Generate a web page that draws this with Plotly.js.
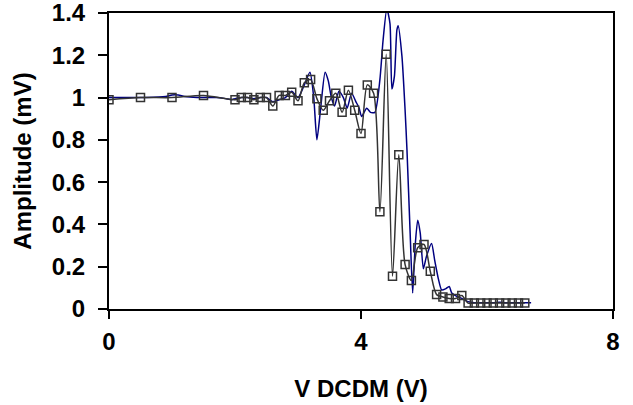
<!DOCTYPE html>
<html>
<head>
<meta charset="utf-8">
<script src="https://cdn.plot.ly/plotly-3.0.1.min.js"></script>
<style>
html,body{margin:0;padding:0;background:#fff;}
#chart{width:633px;height:405px;}
</style>
</head>
<body>
<div id="chart"></div>
<script>
// Series 1: dense navy trace (no markers)
const blueX = [0.0, 0.3, 0.6, 0.9, 1.0, 1.1, 1.2, 1.4, 1.7, 1.85, 1.95, 2.0, 2.1, 2.2, 2.3, 2.4, 2.5, 2.6, 2.7, 2.8, 2.9, 3.0, 3.1, 3.19, 3.25, 3.30, 3.36, 3.43, 3.48, 3.53, 3.58, 3.65, 3.72, 3.78, 3.85, 3.92, 3.97, 4.01, 4.09, 4.15, 4.22, 4.30, 4.35, 4.41, 4.46, 4.49, 4.53, 4.57, 4.59, 4.65, 4.70, 4.73, 4.78, 4.82, 4.86, 4.90, 4.94, 4.99, 5.04, 5.12, 5.17, 5.23, 5.28, 5.34, 5.40, 5.44, 5.52, 5.6, 5.7, 5.8, 5.9, 6.0, 6.1, 6.2, 6.3, 6.4, 6.5, 6.6, 6.7];
const blueY = [1.0, 1.0, 1.0, 1.005, 1.012, 1.012, 1.005, 1.0, 1.0, 0.995, 0.99, 0.995, 1.0, 1.0, 0.995, 1.0, 1.0, 0.98, 0.99, 1.0, 1.03, 1.0, 1.06, 1.12, 1.0, 0.80, 0.95, 1.12, 1.08, 1.0, 0.96, 1.03, 1.0, 0.95, 1.02, 0.98, 0.95, 0.91, 0.95, 0.93, 0.93, 1.085, 1.27, 1.42, 1.35, 1.04, 1.1, 1.32, 1.34, 1.195, 0.94, 0.75, 0.36, 0.076, 0.30, 0.42, 0.36, 0.19, 0.25, 0.31, 0.23, 0.14, 0.09, 0.095, 0.107, 0.076, 0.06, 0.05, 0.035, 0.03, 0.03, 0.03, 0.03, 0.032, 0.03, 0.03, 0.03, 0.03, 0.03];

// Series 2: dark grey trace with open square markers
const greyX = [0, 0.5, 1, 1.5, 2.0, 2.1, 2.2, 2.3, 2.4, 2.5, 2.6, 2.7, 2.8, 2.9, 3.0, 3.1, 3.2, 3.3, 3.4, 3.5, 3.6, 3.7, 3.8, 3.9, 4.0, 4.1, 4.2, 4.3, 4.4, 4.5, 4.6, 4.7, 4.8, 4.9, 5.0, 5.1, 5.2, 5.3, 5.4, 5.5, 5.6, 5.7, 5.8, 5.9, 6.0, 6.1, 6.2, 6.3, 6.4, 6.5, 6.6];
const greyY = [0.99, 1.0, 1.0, 1.01, 0.99, 1.0, 1.0, 0.99, 1.0, 1.0, 0.96, 1.01, 1.01, 1.025, 0.985, 1.07, 1.085, 0.995, 0.94, 0.985, 1.02, 0.93, 1.035, 0.94, 0.83, 1.06, 1.02, 0.46, 1.205, 0.155, 0.73, 0.21, 0.135, 0.29, 0.305, 0.178, 0.068, 0.057, 0.05, 0.05, 0.064, 0.028, 0.028, 0.028, 0.028, 0.028, 0.028, 0.028, 0.028, 0.028, 0.028];

const xTickVals = [0, 4, 8];
const xTickText = ['0', '4', '8'];
const yTickVals = [0, 0.2, 0.4, 0.6, 0.8, 1, 1.2, 1.4];
const yTickText = ['0', '0.2', '0.4', '0.6', '0.8', '1', '1.2', '1.4'];

const FONT = 'Liberation Sans, Arial, sans-serif';
const FS = 24;

const traces = [
  {
    x: blueX, y: blueY, type: 'scatter', mode: 'lines',
    line: {color: '#000080', width: 1.5, shape: 'spline', smoothing: 0.6},
    hoverinfo: 'skip', showlegend: false
  },
  {
    x: greyX, y: greyY, type: 'scatter', mode: 'lines+markers',
    line: {color: '#333333', width: 1.5, shape: 'spline', smoothing: 0.8},
    marker: {symbol: 'square-open', size: 8, color: '#333333', line: {width: 1.5, color: '#333333'}},
    hoverinfo: 'skip', showlegend: false
  }
];

const layout = {
  width: 633, height: 405,
  margin: {l: 109, r: 20, t: 13, b: 96, pad: 0},
  paper_bgcolor: '#ffffff', plot_bgcolor: '#ffffff',
  font: {family: FONT, size: FS, color: '#000000'},
  showlegend: false,
  xaxis: {
    range: [0, 8], tickvals: xTickVals, ticktext: xTickText,
    ticks: 'outside', ticklen: 8, tickwidth: 2, tickcolor: '#000',
    showline: true, linewidth: 2, linecolor: '#000', mirror: true,
    showgrid: false, zeroline: false,
    ticklabelstandoff: 2, ticklabeloverflow: 'allow',
    tickfont: {family: FONT, size: FS, color: '#000', weight: 'bold'},
    title: {text: '<b>V DCDM (V)</b>', font: {family: FONT, size: FS, color: '#000'}, standoff: 26},
    automargin: false
  },
  yaxis: {
    range: [0, 1.4], tickvals: yTickVals, ticktext: yTickText,
    ticks: 'outside', ticklen: 9, tickwidth: 2, tickcolor: '#000',
    showline: true, linewidth: 2, linecolor: '#000', mirror: true,
    showgrid: false, zeroline: false,
    ticklabelstandoff: 8, ticklabeloverflow: 'allow',
    tickfont: {family: FONT, size: FS, color: '#000', weight: 'bold'},
    title: {text: '<b>Amplitude (mV)</b>', font: {family: FONT, size: FS, color: '#000'}, standoff: 13},
    automargin: false
  }
};

Plotly.newPlot('chart', traces, layout, {staticPlot: true, displayModeBar: false});
</script>
</body>
</html>
